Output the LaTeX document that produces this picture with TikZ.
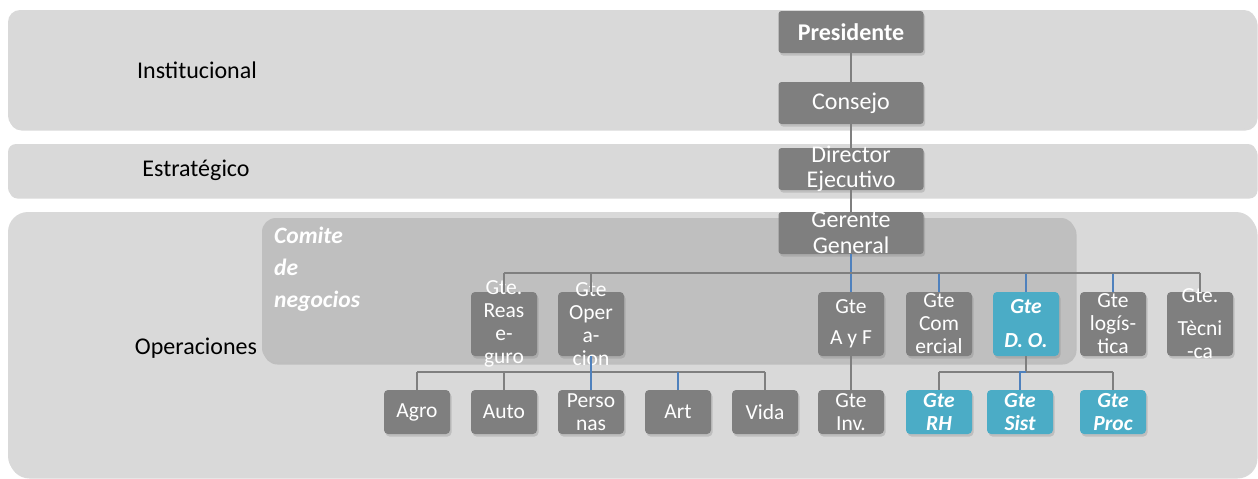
\documentclass[tikz,border=0pt]{standalone}
\usepackage{fontspec}
\setmainfont{Carlito}
\usetikzlibrary{shadows}

\definecolor{bandgray}{HTML}{D9D9D9}
\definecolor{comgray}{HTML}{BFBFBF}
\definecolor{boxgray}{HTML}{7F7F7F}
\definecolor{boxblue}{HTML}{4BACC6}
\definecolor{lineblue}{HTML}{4F81BD}
\definecolor{linegray}{HTML}{7F7F7F}

\tikzset{
  softshadow/.style={drop shadow={opacity=0.3,shadow xshift=1.5pt,shadow yshift=-2.5pt}},
  band/.style={fill=bandgray, rounded corners=#1, softshadow},
  band/.default=10pt,
  lvl/.style={font=\fontsize{24}{26}\selectfont, text=black},
  topbox/.style={fill=boxgray, rounded corners=3pt, minimum width=145pt, minimum height=42pt, inner sep=0pt, softshadow},
  gbox/.style={fill=boxgray, rounded corners=4pt, minimum width=66pt, minimum height=64pt, inner sep=0pt, softshadow},
  bbox/.style={gbox, fill=boxblue},
  sbox/.style={gbox, minimum height=44pt},
  sbbox/.style={sbox, fill=boxblue},
  toptxt/.style={text=white, align=center, inner sep=0pt, font=\fontsize{24}{25.5}\selectfont},
  btxt/.style={text=white, align=center, inner sep=0pt, font=\fontsize{21.5}{23}\selectfont},
  bitxt/.style={btxt, font=\fontsize{21.5}{23}\selectfont\bfseries\itshape},
  comtxt/.style={text=white, align=left, inner sep=0pt, font=\fontsize{23.5}{32}\selectfont\bfseries\itshape},
  link/.style={draw=linegray, line width=1.3pt},
  linkb/.style={draw=lineblue, line width=1.3pt}
}

\begin{document}
\begin{tikzpicture}[x=1pt,y=-1pt]
  \useasboundingbox (0,0) rectangle (1258,479);

  % level bands
  \fill[band=12pt] (8,10) rectangle (1256,128);
  \fill[band=8pt] (8,144) rectangle (1256,196);
  \fill[band=20pt] (8,212) rectangle (1256,476);
  \node[lvl] (inst) at (197,70) {Institucional};
  \node[lvl] (estr) at (196,170) {Estratégico};
  \node[lvl] (oper) at (196,348) {Operaciones};

  % comite
  \fill[comgray, rounded corners=14pt, softshadow] (262,218) rectangle (1075,362);
  \node[comtxt, anchor=north west] (comite) at (274,227) {Comite\\de\\negocios};

  % top of the chart
  \node[topbox, label={[toptxt]center:{\bfseries Presidente}}] (pres) at (851,32) {};
  \node[topbox, label={[toptxt]center:Consejo}] (cons) at (851,103) {};
  \node[topbox, label={[toptxt]center:{Director\\Ejecutivo}}] (dir) at (851,169) {};
  \node[topbox, label={[toptxt]center:{Gerente\\General}}] (ger) at (851,233) {};
  \draw[link] (pres) -- (cons);
  \draw[link] (cons) -- (dir);
  \draw[link] (dir) -- (ger);

  % gerencias
  \node[gbox, label={[btxt]center:{Gte.\\Reas\\e-\\guro}}] (rea) at (504,324) {};
  \node[gbox, label={[btxt]center:{Gte\\Oper\\a-\\cion}}] (ope) at (591,324) {};
  \node[gbox, label={[btxt]center:{Gte\\[8pt]A y F}}] (ayf) at (851,324) {};
  \node[gbox, label={[btxt]center:{Gte\\Com\\ercial}}] (com) at (939,324) {};
  \node[bbox, label={[bitxt]center:{Gte\\[11pt]D. O.}}] (dop) at (1026,324) {};
  \node[gbox, label={[btxt]center:{Gte\\logís-\\tica}}] (log) at (1113,324) {};
  \node[gbox, label={[btxt]center:{Gte.\\[10pt]Tècni\\-ca}}] (tec) at (1200,324) {};

  \coordinate (bus1) at (851,273);
  \draw[linkb] (ger) -- (bus1);
  \foreach \n in {ayf,com,dop,log}
    \draw[linkb] (\n.north |- bus1) -- (\n.north);
  \foreach \n in {rea,ope,tec}
    \draw[link] (\n.north |- bus1) -- (\n.north);
  \draw[link] (rea.north |- bus1) -- (tec.north |- bus1);

  % areas
  \node[sbox, label={[btxt]center:Agro}] (agr) at (417,412) {};
  \node[sbox, label={[btxt]center:Auto}] (aut) at (504,412) {};
  \node[sbox, label={[btxt]center:{Perso\\nas}}] (per) at (591,412) {};
  \node[sbox, label={[btxt]center:Art}] (art) at (678,412) {};
  \node[sbox, label={[btxt]center:Vida}] (vid) at (765,412) {};
  \node[sbox, label={[btxt]center:{Gte\\Inv.}}] (inv) at (851,412) {};
  \node[sbbox, label={[bitxt]center:{Gte\\RH}}] (grh) at (939,412) {};
  \node[sbbox, label={[bitxt]center:{Gte\\Sist}}] (sis) at (1020,412) {};
  \node[sbbox, label={[bitxt]center:{Gte\\Proc}}] (pro) at (1113,412) {};

  \coordinate (bus2) at (591,372);
  \coordinate (bus3) at (1026,372);
  \draw[link] (agr.north |- bus2) -- (vid.north |- bus2);
  \foreach \n in {agr,aut,vid}
    \draw[link] (\n.north |- bus2) -- (\n.north);
  \draw[linkb] (ope) -- (per);
  \draw[linkb] (art.north |- bus2) -- (art.north);
  \draw[link] (ayf) -- (inv);
  \draw[link] (dop) -- (bus3);
  \draw[link] (grh.north |- bus3) -- (pro.north |- bus3);
  \foreach \n in {grh,pro}
    \draw[link] (\n.north |- bus3) -- (\n.north);
  \draw[linkb] (bus3) -- (sis.north |- bus3) -- (sis.north);
\end{tikzpicture}
\end{document}
